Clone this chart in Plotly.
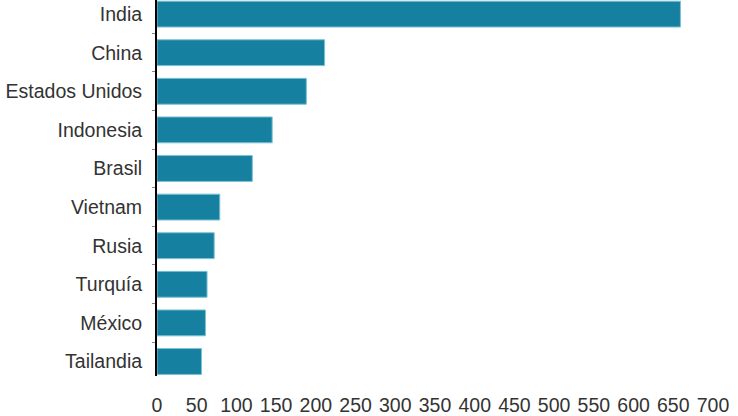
import plotly.graph_objects as go

# Data
paises = ["India", "China", "Estados Unidos", "Indonesia", "Brasil",
          "Vietnam", "Rusia", "Turquía", "México", "Tailandia"]
valores = [659, 211, 188, 145, 120, 79, 72, 63, 61, 56]
x_ticks = list(range(0, 701, 50))

fig = go.Figure(go.Bar(
    x=valores,
    y=paises,
    orientation="h",
    marker=dict(color="#1580a0", line=dict(color="#7cc0d4", width=1)),
    hoverinfo="x+y",
))

fig.update_layout(
    width=738,
    height=416,
    margin=dict(l=157, r=25, t=0, b=40),
    plot_bgcolor="white",
    paper_bgcolor="white",
    bargap=0.33,
    showlegend=False,
    font=dict(family="Liberation Sans, Arial, sans-serif", size=19.5, color="#333"),
)

fig.update_xaxes(
    range=[0, 700],
    tickvals=x_ticks,
    showgrid=False,
    zeroline=False,
    showline=False,
    ticks="outside",
    ticklen=12,
    tickcolor="white",
)

fig.update_yaxes(
    categoryorder="array",
    categoryarray=paises[::-1],
    range=[-0.376, 9.365],
    showgrid=False,
    showline=True,
    linecolor="black",
    linewidth=2,
    ticks="outside",
    tickson="boundaries",
    ticklen=3,
    tickcolor="#888",
    ticklabelstandoff=9,
)

# drop the default page margin so the chart sits flush in the window
fig.write_html("out.html", config={"displayModeBar": False},
               post_script="document.body.style.margin='0';")
